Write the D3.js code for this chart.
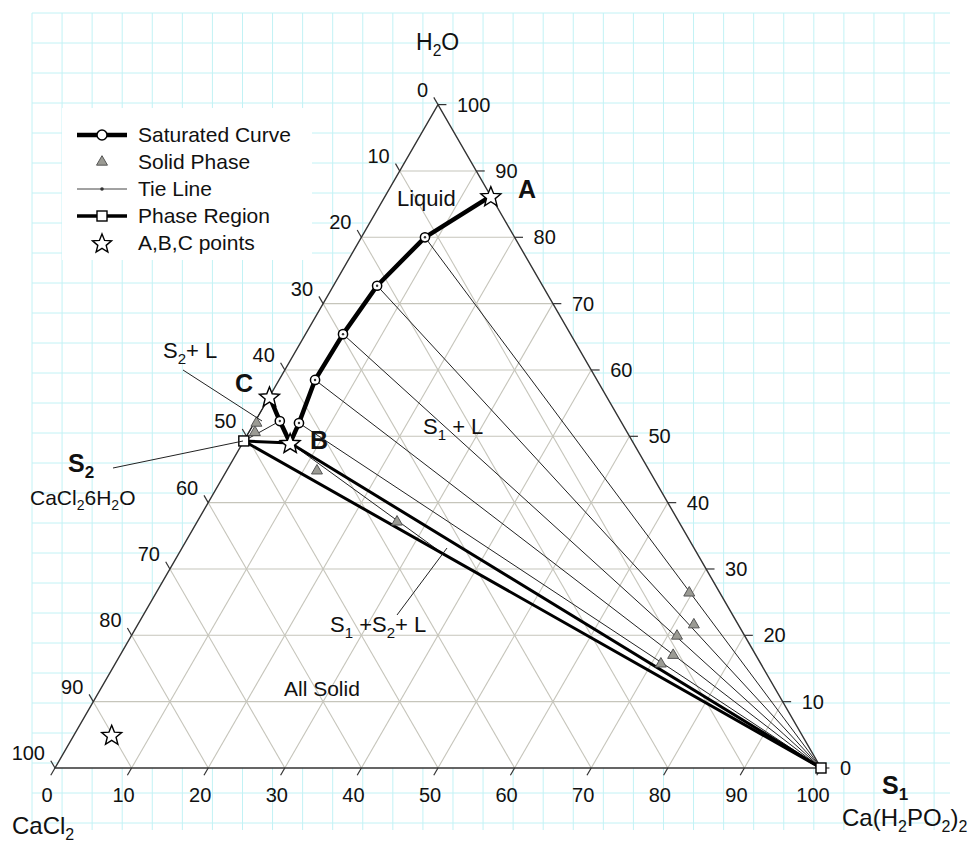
<!DOCTYPE html>
<html><head><meta charset="utf-8">
<script src="https://cdn.jsdelivr.net/npm/d3@7"></script>
<style>body{margin:0;background:#fff}svg{display:block}text{font-family:"Liberation Sans",Arial,sans-serif;fill:#111}</style>
</head><body>
<svg id="chart" width="975" height="845"></svg>
<script>
// ---------------- data (wt %) ----------------
const axisTicks = [0,10,20,30,40,50,60,70,80,90,100];
// saturated curve, branch 1: A -> ... -> B  (Ca(H2PO2)2 %, H2O %)
const satNames1 = ["A","L1","L2","L3","L4","L5","B"];
const satHypo1  = [13.8, 8.3, 5.7, 4.9, 4.7, 5.85, 6.2];
const satWater1 = [86.2, 80.0, 72.7, 65.4, 58.5, 52.0, 49.0];
// saturated curve, branch 2: B -> L6 -> C
const satNames2 = ["B","L6","C"];
const satHypo2  = [6.2, 3.2, 0.0];
const satWater2 = [49.0, 52.3, 56.0];
// solid phase (wet residue) points
const solidHypo  = [69.6, 72.6, 71.25, 72.2, 71.25, 11.8, 26.1, 0.3, 0.8];
const solidWater = [26.4, 21.6, 19.9, 17.0, 15.7, 44.8, 37.1, 52.0, 50.6];
// tie lines: liquid -> solid
const tieFromHypo  = [8.3, 5.7, 4.9, 4.7, 5.85, 0.0, 3.2, 6.2];
const tieFromWater = [80.0, 72.7, 65.4, 58.5, 52.0, 56.0, 52.3, 49.0];
const tieToHypo    = [100, 100, 100, 100, 100, 0.0, 0.0, 34.5];
const tieToWater   = [0, 0, 0, 0, 0, 49.3, 49.3, 32.3];
// phase region (S1, S2 and the invariant point B)
const regionNames = ["S2","B","S1"];
const regionHypo  = [0.0, 6.2, 100];
const regionWater = [49.3, 49.0, 0];
const regionEdges = [[0,2],[1,2],[0,1]];
// A, B, C points plus the star in the all-solid field
const starNames = ["A","B","C","x"];
const starHypo  = [13.8, 6.2, 0.0, 4.9];
const starWater = [86.2, 49.0, 56.0, 5.0];
const legendLabels = ["Saturated Curve","Solid Phase","Tie Line","Phase Region","A,B,C points"];

// ---------------- geometry ----------------
const X0 = 55, Y0 = 768, SIDE = 766, HGT = SIDE*Math.sqrt(3)/2;
const xs = d3.scaleLinear().domain([0,100]).range([X0, X0+SIDE]);
const ys = d3.scaleLinear().domain([0,100]).range([Y0, Y0-HGT]);
const P = (b,w) => [xs(b + w/2), ys(w)];

const svg = d3.select("#chart");

// graph-paper background
const bg = svg.append("g").attr("stroke","#c2f2f5").attr("stroke-width",1);
d3.range(0,31).forEach(k=>{
  const x = 32 + k*30.07;
  bg.append("line").attr("x1",x).attr("x2",x).attr("y1",13).attr("y2",830);
});
d3.range(0,28).forEach(k=>{
  const y = 13 + k*30;
  bg.append("line").attr("x1",32).attr("x2",950).attr("y1",y).attr("y2",y);
});
// legend white box
svg.append("rect").attr("x",62).attr("y",108).attr("width",250).attr("height",152).attr("fill","#fff");

// triangle fill
const tri = [P(0,0),P(100,0),P(0,100)];
svg.append("path").attr("d","M"+tri.join("L")+"Z").attr("fill","#fff");

// internal grid
const grid = svg.append("g").attr("stroke","#c6c5bb").attr("stroke-width",1.1).attr("fill","none");
axisTicks.filter(k=>k>0&&k<100).forEach(k=>{
  [[P(0,k),P(100-k,k)],[P(k,0),P(k,100-k)],[P(100-k,0),P(0,100-k)]].forEach(s=>{
    grid.append("line").attr("x1",s[0][0]).attr("y1",s[0][1]).attr("x2",s[1][0]).attr("y2",s[1][1]);
  });
});

// triangle edges
svg.append("path").attr("d","M"+tri.join("L")+"Z").attr("fill","none").attr("stroke","#333").attr("stroke-width",1.4);

// ticks + labels
const tk = svg.append("g").attr("stroke","#333").attr("stroke-width",1.2);
const lab = svg.append("g").attr("font-size",20);
axisTicks.forEach(k=>{
  // bottom axis: Ca(H2PO2)2
  let a = P(k,0), b = P(k,-1.1);
  tk.append("line").attr("x1",a[0]).attr("y1",a[1]).attr("x2",b[0]).attr("y2",b[1]);
  lab.append("text").attr("x",a[0]-8).attr("y",a[1]+34).attr("text-anchor","middle").text(k);
  // right axis: H2O
  a = P(100-k,k); b = P(100-k+1.1,k);
  tk.append("line").attr("x1",a[0]).attr("y1",a[1]).attr("x2",b[0]).attr("y2",b[1]);
  lab.append("text").attr("x",a[0]+19).attr("y",a[1]+7).attr("text-anchor","start").text(k);
  // left axis: CaCl2
  a = P(0,100-k); b = P(-1.1,100-k+1.1);
  tk.append("line").attr("x1",a[0]).attr("y1",a[1]).attr("x2",b[0]).attr("y2",b[1]);
  lab.append("text").attr("x",a[0]-10).attr("y",a[1]-8).attr("text-anchor","end").text(k);
});

// tie lines
const ties = svg.append("g");
tieFromHypo.forEach((h,i)=>{
  const a = P(h,tieFromWater[i]), b = P(tieToHypo[i],tieToWater[i]);
  ties.append("line").attr("x1",a[0]).attr("y1",a[1]).attr("x2",b[0]).attr("y2",b[1])
    .attr("stroke","#222").attr("stroke-width",1);
});

// phase region lines
const reg = svg.append("g");
regionEdges.forEach(e=>{
  const a = P(regionHypo[e[0]],regionWater[e[0]]), b = P(regionHypo[e[1]],regionWater[e[1]]);
  reg.append("line").attr("x1",a[0]).attr("y1",a[1]).attr("x2",b[0]).attr("y2",b[1])
    .attr("stroke","#000").attr("stroke-width",3).attr("stroke-linecap","round");
});

// saturated curve
const lineGen = d3.line().x(d=>d[0]).y(d=>d[1]);
const br1 = satHypo1.map((h,i)=>P(h,satWater1[i]));
const br2 = satHypo2.map((h,i)=>P(h,satWater2[i]));
[br1,br2].forEach(br=>{
  svg.append("path").attr("d",lineGen(br)).attr("fill","none").attr("stroke","#000")
    .attr("stroke-width",4.5).attr("stroke-linejoin","round");
});

// solid phase triangles
const triSym = d3.symbol().type(d3.symbolTriangle).size(52);
solidHypo.forEach((h,i)=>{
  const p = P(h,solidWater[i]);
  svg.append("path").attr("d",triSym()).attr("transform",`translate(${p[0]},${p[1]})`)
    .attr("fill","#9b9b94").attr("stroke","#555").attr("stroke-width",1);
});

// circles on saturated curve (liquid points)
const circ = [];
satNames1.forEach((n,i)=>{ if(n.startsWith("L")) circ.push(P(satHypo1[i],satWater1[i])); });
satNames2.forEach((n,i)=>{ if(n.startsWith("L")) circ.push(P(satHypo2[i],satWater2[i])); });
circ.forEach(p=>{
  svg.append("circle").attr("cx",p[0]).attr("cy",p[1]).attr("r",4.6).attr("fill","#fff").attr("stroke","#000").attr("stroke-width",1.5);
  svg.append("circle").attr("cx",p[0]).attr("cy",p[1]).attr("r",1.2).attr("fill","#333");
});

// squares at S1 and S2
[0,2].forEach(i=>{
  const p = P(regionHypo[i],regionWater[i]);
  svg.append("rect").attr("x",p[0]-5).attr("y",p[1]-5).attr("width",10).attr("height",10)
    .attr("fill","#fff").attr("stroke","#000").attr("stroke-width",1.4);
});

// stars
function starPath(R, r){
  const pts = d3.range(10).map(i=>{
    const ang = -Math.PI/2 + i*Math.PI/5, rr = i%2 ? r : R;
    return [rr*Math.cos(ang), rr*Math.sin(ang)];
  });
  return "M"+pts.join("L")+"Z";
}
starHypo.forEach((h,i)=>{
  const p = P(h,starWater[i]);
  svg.append("path").attr("d",starPath(10.5,4.6)).attr("transform",`translate(${p[0]},${p[1]+1})`)
    .attr("fill","#fff").attr("stroke","#000").attr("stroke-width",1.4).attr("stroke-linejoin","miter");
});

// ---------------- text ----------------
function rich(x,y,parts,size,weight,sub){
  const t = svg.append("text").attr("x",x).attr("y",y).attr("font-size",size).attr("font-weight",weight||"normal");
  const ss = sub || size*0.68, sh = size*0.25;
  let down = false;
  parts.forEach(p=>{
    const s = t.append("tspan").text(p[0]);
    if(p[1]){ s.attr("font-size",ss); if(!down){s.attr("dy",sh); down=true;} }
    else if(down){ s.attr("dy",-sh); down=false; }
  });
  return t;
}
rich(416,50,[["H"],["2",1],["O"]],23);
rich(12,834,[["CaCl"],["2",1]],24,null,16);
rich(842,826,[["Ca(H"],["2",1],["PO"],["2",1],[")"],["2",1]],24,null,16);
rich(68,472,[["S"],["2",1]],25,"bold",17);
rich(30,505,[["CaCl"],["2",1],["6H"],["2",1],["O"]],21,null,14);
rich(882,794,[["S"],["1",1]],25,"bold",17);
rich(518,198,[["A"]],25,"bold");
rich(310,449,[["B"]],25,"bold");
rich(235,392,[["C"]],25,"bold");
rich(397,206,[["Liquid"]],22);
rich(423,434,[["S"],["1",1],[" + L"]],22,null,15);
rich(163,358,[["S"],["2",1],["+ L"]],22,null,15);
rich(330,632,[["S"],["1",1],[" +S"],["2",1],["+ L"]],22,null,15);
rich(284,696,[["All Solid"]],21);

// leader lines
const leaders = svg.append("g").attr("stroke","#222").attr("stroke-width",1);
[[[113,468],[243,441]],[[183,370],[262,421]],[[397,615],[447,548]]].forEach(s=>{
  leaders.append("line").attr("x1",s[0][0]).attr("y1",s[0][1]).attr("x2",s[1][0]).attr("y2",s[1][1]);
});

// ---------------- legend ----------------
const lg = svg.append("g");
legendLabels.forEach((t,i)=>{
  const cy = 135 + i*27, cx = 102;
  lg.append("text").attr("x",138).attr("y",cy+7).attr("font-size",21).text(t);
  if(i===0){
    lg.append("line").attr("x1",77).attr("x2",127).attr("y1",cy).attr("y2",cy).attr("stroke","#000").attr("stroke-width",4.5);
    lg.append("circle").attr("cx",cx).attr("cy",cy).attr("r",5).attr("fill","#fff").attr("stroke","#000").attr("stroke-width",1.5);
  } else if(i===1){
    lg.append("path").attr("d",triSym()).attr("transform",`translate(${cx},${cy})`).attr("fill","#9b9b94").attr("stroke","#555");
  } else if(i===2){
    lg.append("line").attr("x1",77).attr("x2",127).attr("y1",cy).attr("y2",cy).attr("stroke","#444").attr("stroke-width",1);
    lg.append("circle").attr("cx",cx).attr("cy",cy).attr("r",1.8).attr("fill","#333");
  } else if(i===3){
    lg.append("line").attr("x1",77).attr("x2",127).attr("y1",cy).attr("y2",cy).attr("stroke","#000").attr("stroke-width",3.5);
    lg.append("rect").attr("x",cx-5).attr("y",cy-5).attr("width",10).attr("height",10).attr("fill","#fff").attr("stroke","#000").attr("stroke-width",1.4);
  } else {
    lg.append("path").attr("d",starPath(10,4.4)).attr("transform",`translate(${cx},${cy+1})`).attr("fill","#fff").attr("stroke","#000").attr("stroke-width",1.4);
  }
});
</script>
</body></html>
